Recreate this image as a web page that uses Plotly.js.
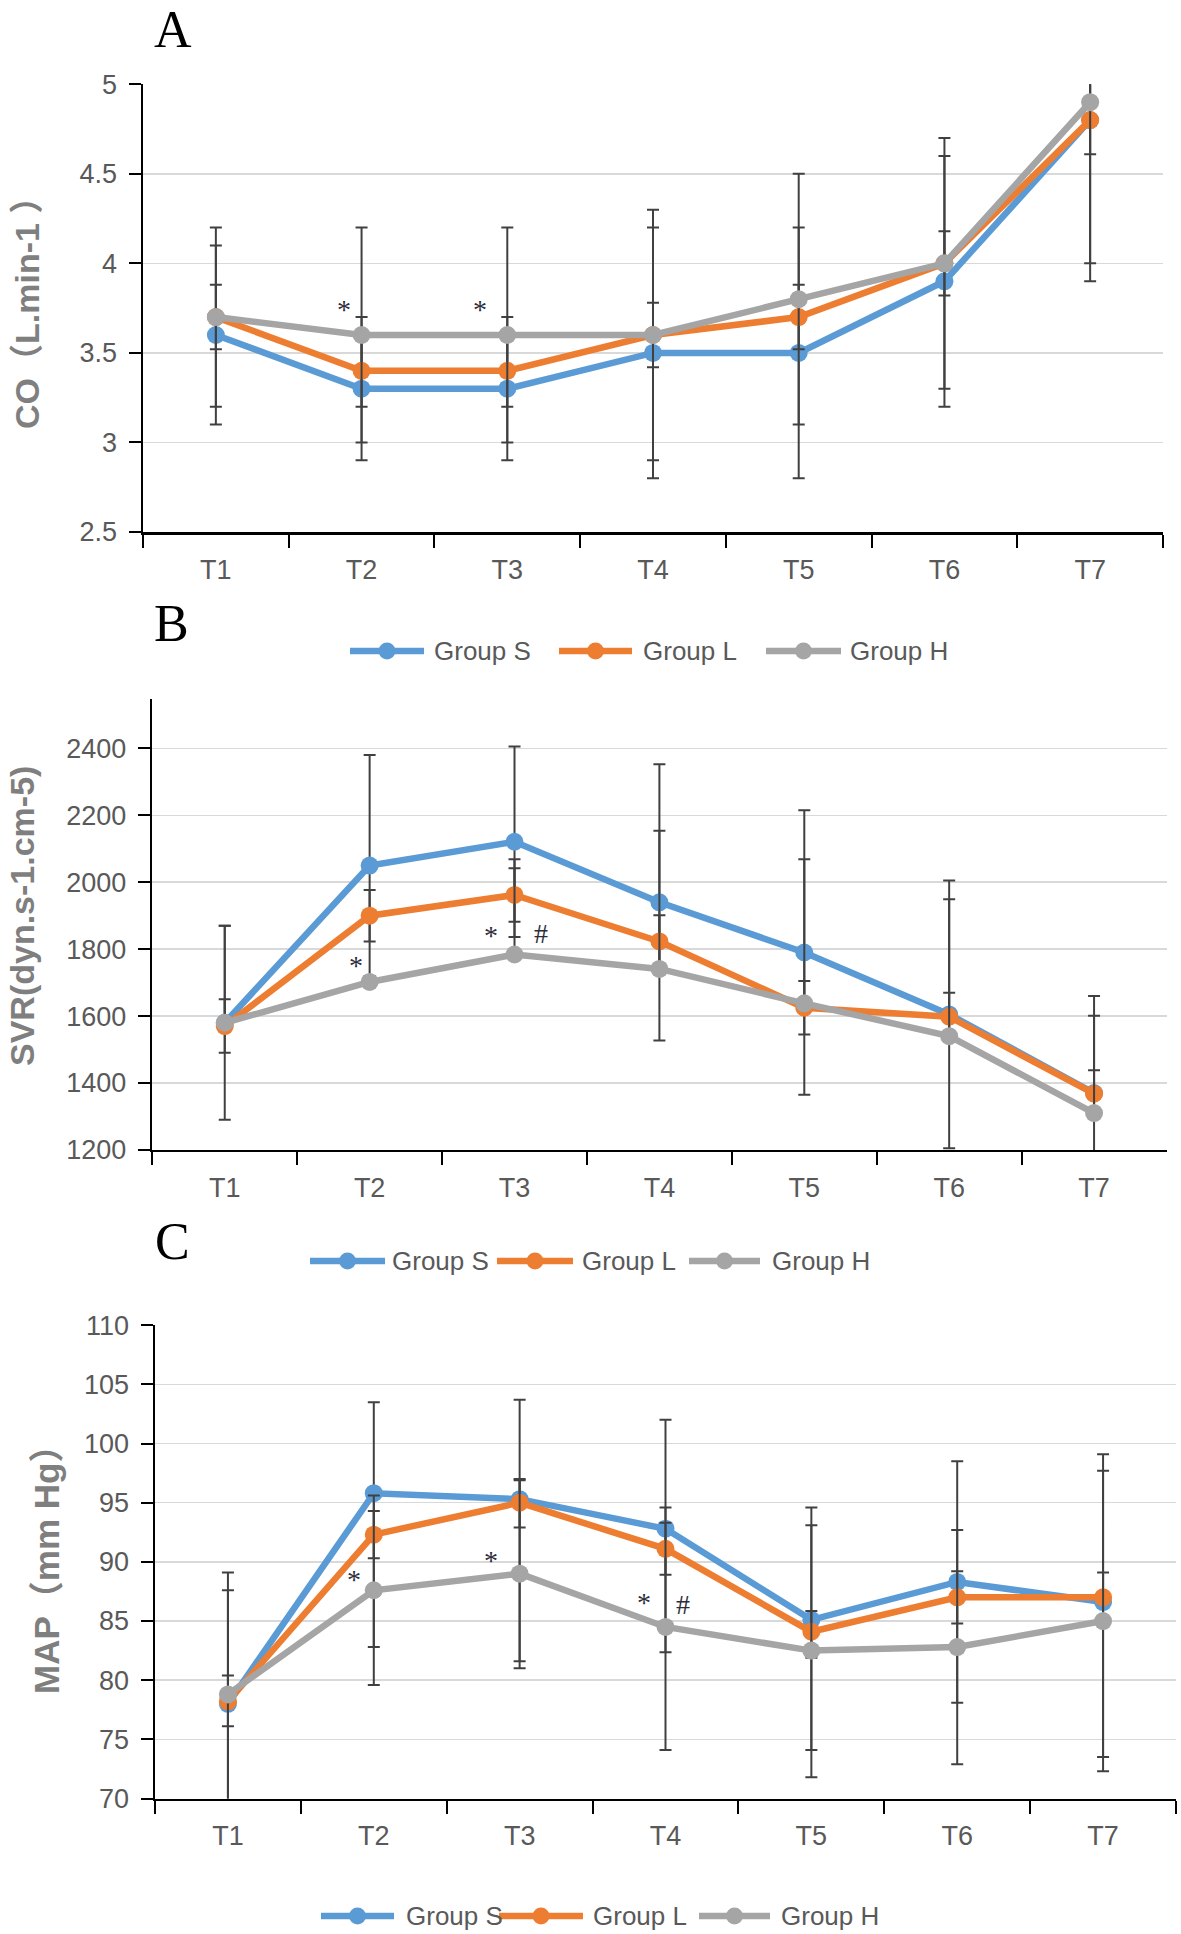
<!DOCTYPE html>
<html><head><meta charset="utf-8">
<script src="https://cdn.plot.ly/plotly-3.0.1.min.js"></script>
<style>html,body{margin:0;padding:0;background:#fff}#chart{width:1181px;height:1934px}</style>
</head><body><div id="chart"></div>
<script>
// ---------- data ----------
const categories = ['T1','T2','T3','T4','T5','T6','T7'];
const groupNames = ['Group S','Group L','Group H'];

// Panel A: CO (L.min-1)
const coS = [3.6, 3.3, 3.3, 3.5, 3.5, 3.9, 4.8];
const coL = [3.7, 3.4, 3.4, 3.6, 3.7, 4.0, 4.8];
const coH = [3.7, 3.6, 3.6, 3.6, 3.8, 4.0, 4.9];
const coErrS = [0.5, 0.4, 0.4, 0.7, 0.7, 0.7, 0.9];
const coErrL = [0.5, 0.2, 0.2, 0.7, 0.18, 0.7, 0.8];
const coErrH = [0.18, 0.6, 0.6, 0.18, 0.7, 0.18, 0.29];

// Panel B: SVR (dyn.s-1.cm-5)
const svrS = [1580, 2050, 2121, 1940, 1790, 1605, 1370];
const svrL = [1570, 1900, 1962, 1823, 1625, 1598, 1368];
const svrH = [1580, 1702, 1784, 1741, 1638, 1540, 1310];
const svrErrS = [290, 330, 285, 413, 425, 400, 290];
const svrErrL = [80, 77, 80, 78, 80, 72, 70];
const svrErrHPlus = [290, 0, 285, 413, 431, 409, 291];
const svrErrHMinus = [0, 0, 0, 0, 0, 0, 0];

// Panel C: MAP (mm Hg)
const mapS = [78.0, 95.8, 95.3, 92.8, 85.1, 88.3, 86.6];
const mapL = [78.2, 92.3, 95.0, 91.1, 84.1, 87.0, 87.0];
const mapH = [78.8, 87.6, 89.0, 84.5, 82.5, 82.8, 85.0];
const mapErrSPlus  = [11.1, 7.7, 8.4, 9.2, 9.5, 10.2, 12.5];
const mapErrSMinus = [11.1, 13.0, 13.7, 10.45, 11.0, 10.2, 13.1];
const mapErrLPlus  = [9.4, 2.0, 1.9, 2.2, 1.75, 2.2, 2.1];
const mapErrLMinus = [9.4, 2.0, 2.1, 2.2, 2.2, 2.2, 2.1];
const mapErrHPlus  = [1.6, 8.0, 8.0, 10.1, 10.6, 9.9, 12.7];
const mapErrHMinus = [2.7, 8.0, 8.0, 10.4, 10.7, 9.9, 12.7];

// significance marks: category, value, symbol
const sigACat = ['T2', 'T3'];
const sigAVal = [3.77, 3.77];
const sigAText = ['*', '*'];
const sigBCat = ['T2', 'T3', 'T3'];
const sigBVal = [1765, 1855, 1847];
const sigBText = ['*', '*', '#'];
const sigCCat = ['T2', 'T3', 'T4', 'T4'];
const sigCVal = [88.9, 90.5, 87.0, 86.4];
const sigCText = ['*', '*', '*', '#'];

// ---------- layout helpers ----------
const W = 1181, H = 1934;
const px = v => v / W;
const py = v => 1 - v / H;
const colors = ['#5B9BD5', '#ED7D31', '#A5A5A5'];
const errColor = '#404040';
const sans = 'Liberation Sans, Arial, Noto Sans CJK SC, sans-serif';
const serif = 'Liberation Serif, Times New Roman, serif';
const tickFont = {family: sans, size: 27, color: '#595959'};
const legendFont = {family: sans, size: 26, color: '#595959'};

function series(y, idx, xa, ya, err) {
  return {
    type: 'scatter', mode: 'lines+markers', x: categories, y: y,
    name: groupNames[idx], xaxis: xa, yaxis: ya, showlegend: false,
    line: {color: colors[idx], width: 6.5},
    marker: {color: colors[idx], size: 18},
    error_y: Object.assign({type: 'data', color: errColor, thickness: 2, width: 6, visible: true}, err)
  };
}
const sym = a => ({symmetric: true, array: a});
const asym = (p, m) => ({symmetric: false, array: p, arrayminus: m});

const traces = [
  series(coS, 0, 'x', 'y', sym(coErrS)),
  series(coL, 1, 'x', 'y', sym(coErrL)),
  series(coH, 2, 'x', 'y', sym(coErrH)),
  series(svrS, 0, 'x2', 'y2', sym(svrErrS)),
  series(svrL, 1, 'x2', 'y2', sym(svrErrL)),
  series(svrH, 2, 'x2', 'y2', asym(svrErrHPlus, svrErrHMinus)),
  series(mapS, 0, 'x3', 'y3', asym(mapErrSPlus, mapErrSMinus)),
  series(mapL, 1, 'x3', 'y3', asym(mapErrLPlus, mapErrLMinus)),
  series(mapH, 2, 'x3', 'y3', asym(mapErrHPlus, mapErrHMinus))
];

function xax(left, right, anchor) {
  return {
    domain: [px(left), px(right)], anchor: anchor, type: 'category',
    categoryorder: 'array', categoryarray: categories, range: [-0.5, 6.5],
    showline: true, linecolor: '#000', linewidth: 2.5,
    ticks: 'outside', tickson: 'boundaries', ticklen: 13, tickwidth: 2, tickcolor: '#000',
    showgrid: false, zeroline: false, tickfont: tickFont, ticklabelstandoff: 12, fixedrange: true
  };
}
function yax(top, bottom, anchor, range, dtick) {
  return {
    domain: [py(bottom), py(top)], anchor: anchor, range: range, dtick: dtick, tick0: range[0],
    showline: true, linecolor: '#000', linewidth: 2.5,
    ticks: 'outside', ticklen: 12, tickwidth: 2, tickcolor: '#000',
    showgrid: true, gridcolor: '#d9d9d9', gridwidth: 1.5, zeroline: false,
    tickfont: tickFont, ticklabelstandoff: 6, fixedrange: true
  };
}

const annotations = [];
const shapes = [];

// panel letters
annotations.push({xref: 'paper', yref: 'paper', x: px(173), y: 1, xanchor: 'center', yanchor: 'top', borderpad: 0,
  text: 'A', showarrow: false, font: {family: serif, size: 52, color: '#000'}});
[['B', 171, 623], ['C', 172, 1241]].forEach(([t, x, y]) => {
  annotations.push({xref: 'paper', yref: 'paper', x: px(x), y: py(y), xanchor: 'center', yanchor: 'middle',
    text: t, showarrow: false, font: {family: serif, size: 52, color: '#000'}});
});

// y-axis titles
[['CO（L.min-1 ）', 27, 305, 34], ['SVR(dyn.s-1.cm-5)', 22, 916, 34], ['MAP（mm Hg）', 46, 1561, 35]].forEach(([t, x, y, s]) => {
  annotations.push({xref: 'paper', yref: 'paper', x: px(x), y: py(y), xanchor: 'center', yanchor: 'middle',
    textangle: -90, text: t, showarrow: false,
    font: {family: sans, size: s, color: '#7f7f7f', weight: 'bold'}});
});

// significance marks
function addSig(cats, vals, texts, xr, yr, shifts) {
  cats.forEach((c, i) => {
    annotations.push({xref: xr, yref: yr, x: c, y: vals[i], text: texts[i], showarrow: false,
      xanchor: 'center', yanchor: 'middle', xshift: shifts[i], yshift: texts[i] === '*' ? -5 : 0,
      font: {family: serif, size: 28, color: '#2d2d3a'}});
  });
}
addSig(sigACat, sigAVal, sigAText, 'x', 'y', [-18, -27]);
addSig(sigBCat, sigBVal, sigBText, 'x2', 'y2', [-14, -24, 26]);
addSig(sigCCat, sigCVal, sigCText, 'x3', 'y3', [-20, -29, -22, 17]);

// legends (line sample with marker + label)
function addLegend(yPx, items) {
  items.forEach((it, i) => {
    shapes.push({type: 'line', xref: 'paper', yref: 'paper', x0: px(it[0]), x1: px(it[1]),
      y0: py(yPx), y1: py(yPx), line: {color: colors[i], width: 6.5}});
    const cx = (it[0] + it[1]) / 2;
    shapes.push({type: 'circle', xref: 'paper', yref: 'paper', xsizemode: 'pixel', ysizemode: 'pixel',
      xanchor: px(cx), yanchor: py(yPx), x0: -8.5, x1: 8.5, y0: -8.5, y1: 8.5,
      fillcolor: colors[i], line: {color: colors[i], width: 0}});
    annotations.push({xref: 'paper', yref: 'paper', x: px(it[2]), y: py(yPx), xanchor: 'left', yanchor: 'middle',
      text: groupNames[i], showarrow: false, font: legendFont});
  });
}
addLegend(651, [[350, 424, 432], [559, 632, 641], [766, 841, 848]]);
addLegend(1261, [[310, 385, 390], [497, 573, 580], [689, 760, 770]]);
addLegend(1916, [[321, 394, 404], [499, 583, 591], [699, 770, 779]]);

const layout = {
  width: W, height: H, autosize: false,
  margin: {l: 0, r: 0, t: 0, b: 0},
  paper_bgcolor: '#fff', plot_bgcolor: '#fff',
  showlegend: false,
  xaxis: xax(143, 1163, 'y'),
  yaxis: yax(84.2, 532, 'x', [2.5, 5.0005], 0.5),
  xaxis2: xax(152.3, 1166.5, 'y2'),
  yaxis2: yax(698.9, 1149.9, 'x2', [1200, 2548], 200),
  xaxis3: xax(155, 1176, 'y3'),
  yaxis3: yax(1325.1, 1798.5, 'x3', [70, 110.01], 5),
  annotations: annotations,
  shapes: shapes
};

Plotly.newPlot('chart', traces, layout, {displayModeBar: false, staticPlot: true});
</script>
</body></html>
